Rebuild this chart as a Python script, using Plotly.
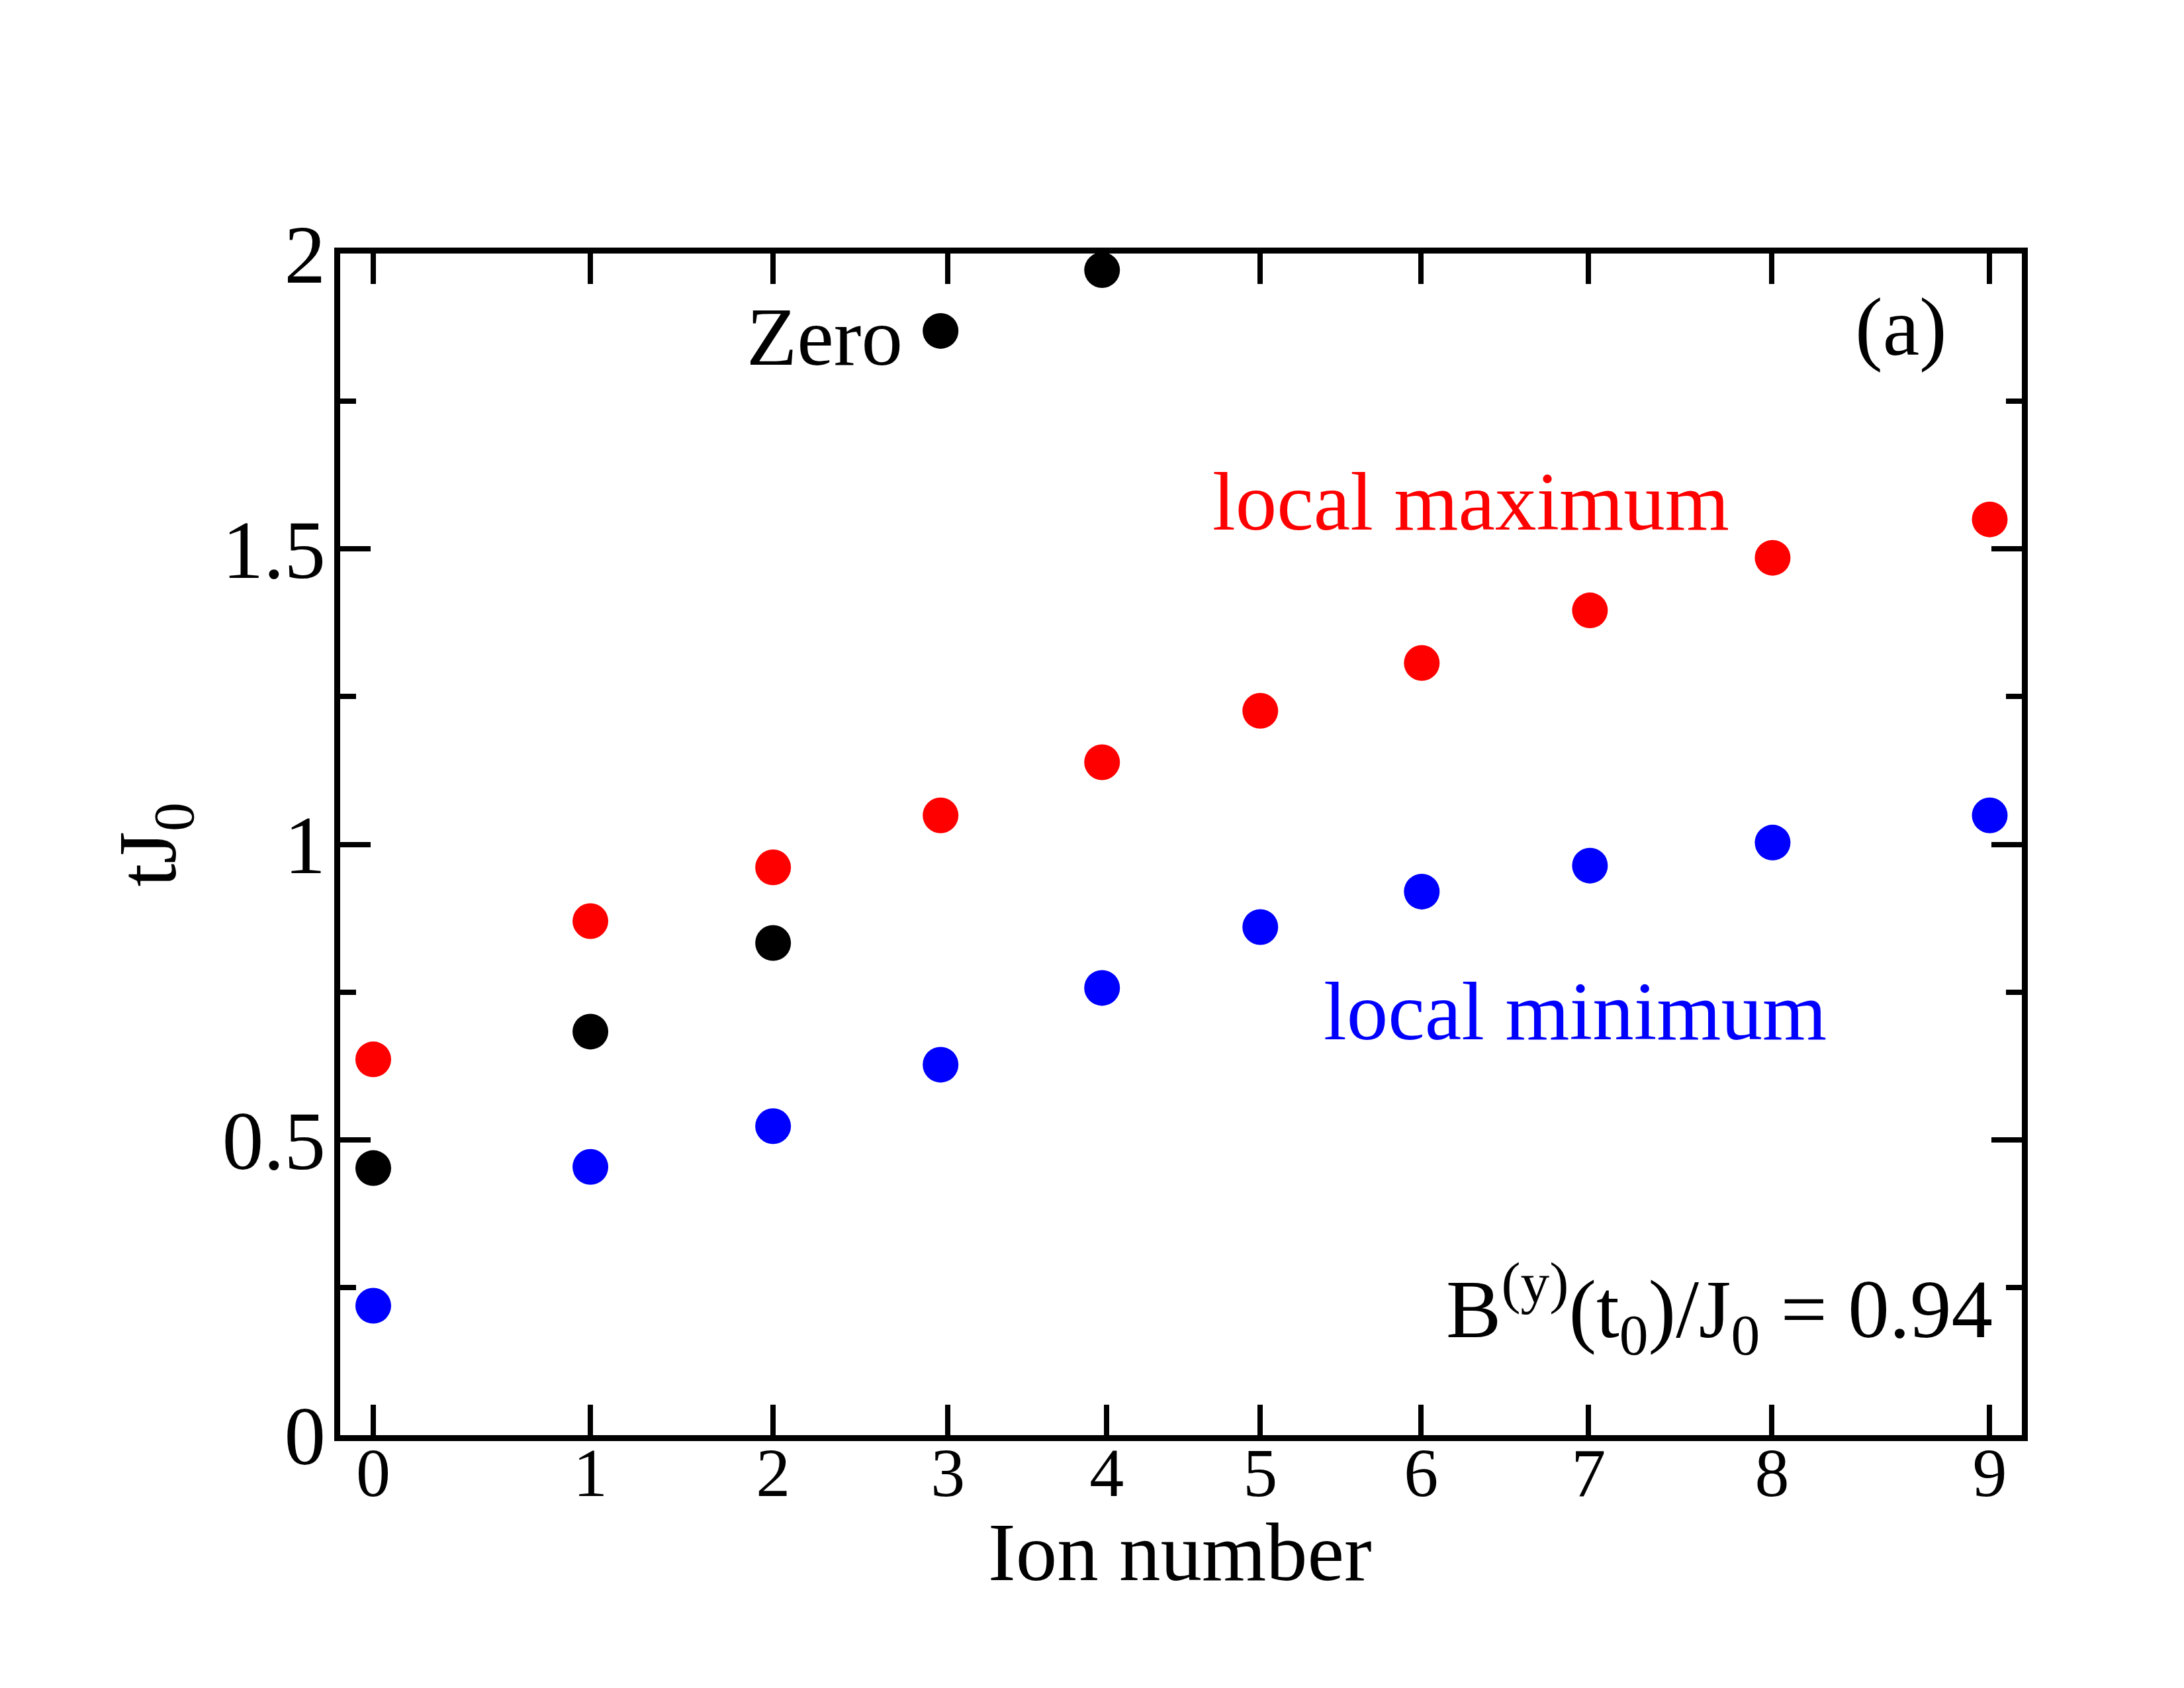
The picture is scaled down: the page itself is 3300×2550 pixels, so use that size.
import plotly.graph_objects as go

# ---- data ----
ion_labels = ["0", "1", "2", "3", "4", "5", "6", "7", "8", "9"]
ion_tick_pos = [-12.21, -8.93, -6.17, -3.53, -1.13, 1.19, 3.62, 6.15, 8.92, 12.21]
ion_marker_pos = [-12.21, -8.93, -6.17, -3.64, -1.20, 1.19, 3.63, 6.17, 8.93, 12.21]

zero_idx = [0, 1, 2, 3, 4]
zero_vals = [0.452, 0.683, 0.833, 1.869, 1.972]
max_vals = [0.636, 0.870, 0.961, 1.049, 1.139, 1.226, 1.307, 1.396, 1.485, 1.550]
min_vals = [0.219, 0.454, 0.523, 0.627, 0.757, 0.860, 0.920, 0.964, 1.003, 1.049]

FONT = "Liberation Serif"
MS = 54

fig = go.Figure()
fig.add_trace(go.Scatter(x=ion_marker_pos, y=max_vals, mode="markers",
                         marker=dict(color="#ff0000", size=MS), cliponaxis=False,
                         name="local maximum"))
fig.add_trace(go.Scatter(x=ion_marker_pos, y=min_vals, mode="markers",
                         marker=dict(color="#0000ff", size=MS), cliponaxis=False,
                         name="local minimum"))
fig.add_trace(go.Scatter(x=[ion_marker_pos[i] for i in zero_idx], y=zero_vals, mode="markers",
                         marker=dict(color="#000000", size=MS), cliponaxis=False,
                         name="Zero"))

axis_common = dict(showline=True, linewidth=9, linecolor="black", mirror="ticks",
                   ticks="inside", tickwidth=8, tickcolor="black",
                   showgrid=False, zeroline=False)

fig.update_xaxes(range=[-12.71, 12.695], tickmode="array", tickvals=ion_tick_pos,
                 ticktext=ion_labels, ticklen=46,
                 tickfont=dict(family=FONT, size=104, color="black"),
                 ticklabelstandoff=-42, **axis_common)
fig.update_yaxes(range=[0, 2], tickmode="array", tickvals=[0, 0.5, 1, 1.5, 2],
                 ticktext=["0", "0.5", "1", "1.5", "2"], ticklen=46,
                 minor=dict(dtick=0.25, ticklen=24, tickwidth=8, ticks="inside",
                            tickcolor="black", showgrid=False),
                 tickfont=dict(family=FONT, size=125, color="black"),
                 ticklabelstandoff=-12, **axis_common)

ann_font = dict(family=FONT, size=125)
annotations = [
    dict(text="Zero", x=-6.59, y=1.859, xanchor="left", yanchor="middle",
         font=dict(color="black", **ann_font)),
    dict(text="(a)", x=10.16, y=1.876, xanchor="left", yanchor="middle",
         font=dict(color="black", **ann_font)),
    dict(text="local maximum", x=0.45, y=1.580, xanchor="left", yanchor="middle",
         font=dict(color="#ff0000", **ann_font)),
    dict(text="local minimum", x=2.13, y=0.717, xanchor="left", yanchor="middle",
         font=dict(color="#0000ff", **ann_font)),
    dict(text="B<sup>(y)</sup>(t<sub>0</sub>)/J<sub>0</sub> = 0.94", x=12.28, y=0.214,
         xanchor="right", yanchor="middle", font=dict(color="black", **ann_font)),
]
for a in annotations:
    a.update(xref="x", yref="y", showarrow=False)

# axis titles
annotations.append(dict(text="Ion number", xref="x", yref="paper", x=-0.02, y=-0.099,
                        xanchor="center", yanchor="middle", showarrow=False,
                        font=dict(color="black", **ann_font)))
annotations.append(dict(text="tJ<sub>0</sub>", xref="paper", yref="paper", x=-0.111, y=0.5,
                        xanchor="center", yanchor="middle", showarrow=False, textangle=-90,
                        font=dict(color="black", **ann_font)))

fig.update_layout(width=3300, height=2550, autosize=False,
                  margin=dict(l=506, r=253, t=375, b=390),
                  plot_bgcolor="white", paper_bgcolor="white",
                  showlegend=False, annotations=annotations,
                  font=dict(family=FONT, color="black"))

fig.write_html("out.html")
